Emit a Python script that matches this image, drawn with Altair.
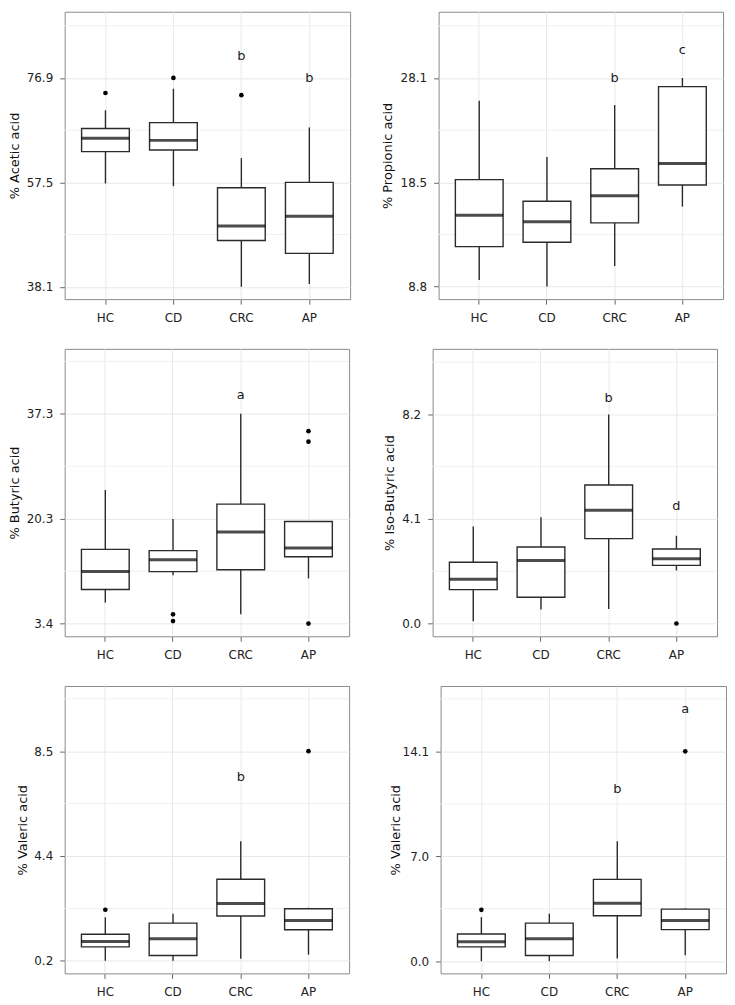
import altair as alt
import pandas as pd

groups = ["HC", "CD", "CRC", "AP"]

# ---------- Panel 1: Acetic acid ----------
ace_low = [57.3, 56.8, 38.1, 38.6]
ace_q1 = [63.2, 63.5, 46.7, 44.3]
ace_med = [65.7, 65.3, 49.4, 51.2]
ace_q3 = [67.5, 68.6, 56.5, 57.5]
ace_high = [70.9, 74.9, 62.0, 67.7]
ace_out_group = ["HC", "CD", "CRC"]
ace_out_value = [74.1, 76.9, 73.7]
ace_let_group = ["CRC", "AP"]
ace_let_value = [80.9, 76.9]
ace_let_text = ["b", "b"]
ace_ticks = [38.1, 57.5, 76.9]
ace_tick_labels = ["38.1", "57.5", "76.9"]
ace_minor = [47.8, 67.2, 86.6]

# ---------- Panel 2: Propionic acid ----------
pro_low = [9.4, 8.8, 10.7, 16.2]
pro_q1 = [12.5, 12.9, 14.7, 18.2]
pro_med = [15.4, 14.8, 17.2, 20.2]
pro_q3 = [18.7, 16.7, 19.7, 27.3]
pro_high = [26.0, 20.8, 25.6, 28.1]
pro_out_group = []
pro_out_value = []
pro_let_group = ["CRC", "AP"]
pro_let_value = [28.1, 30.7]
pro_let_text = ["b", "c"]
pro_ticks = [8.8, 18.45, 28.1]
pro_tick_labels = ["8.8", "18.5", "28.1"]
pro_minor = [13.625, 23.275, 32.925]

# ---------- Panel 3: Butyric acid ----------
but_low = [6.8, 11.2, 4.9, 10.7]
but_q1 = [8.9, 11.8, 12.1, 14.2]
but_med = [11.8, 13.7, 18.2, 15.6]
but_q3 = [15.4, 15.2, 22.7, 19.9]
but_high = [25.0, 20.3, 37.3, 19.9]
but_out_group = ["CD", "CD", "AP", "AP", "AP"]
but_out_value = [4.9, 3.8, 34.5, 32.8, 3.4]
but_let_group = ["CRC"]
but_let_value = [40.3]
but_let_text = ["a"]
but_ticks = [3.4, 20.35, 37.3]
but_tick_labels = ["3.4", "20.3", "37.3"]
but_minor = [11.875, 28.825, 45.775]

# ---------- Panel 4: Iso-Butyric acid ----------
iso_low = [0.09, 0.55, 0.57, 2.08]
iso_q1 = [1.33, 1.03, 3.33, 2.28]
iso_med = [1.74, 2.47, 4.44, 2.54]
iso_q3 = [2.40, 3.00, 5.43, 2.92]
iso_high = [3.80, 4.17, 8.2, 3.44]
iso_out_group = ["AP"]
iso_out_value = [0.0]
iso_let_group = ["CRC", "AP"]
iso_let_value = [8.84, 4.62]
iso_let_text = ["b", "d"]
iso_ticks = [0.0, 4.1, 8.2]
iso_tick_labels = ["0.0", "4.1", "8.2"]
iso_minor = [2.05, 6.15, 10.25]

# ---------- Panel 5: Valeric acid ----------
val_low = [0.2, 0.2, 0.28, 0.44]
val_q1 = [0.75, 0.41, 1.97, 1.43]
val_med = [0.96, 1.07, 2.47, 1.79]
val_q3 = [1.25, 1.69, 3.43, 2.26]
val_high = [1.92, 2.06, 4.93, 2.30]
val_out_group = ["HC", "AP"]
val_out_value = [2.22, 8.5]
val_let_group = ["CRC"]
val_let_value = [7.49]
val_let_text = ["b"]
val_ticks = [0.2, 4.35, 8.5]
val_tick_labels = ["0.2", "4.4", "8.5"]
val_minor = [2.275, 6.425, 10.575]

# ---------- Panel 6: Valeric acid (second) ----------
va2_low = [0.0, 0.0, 0.18, 0.40]
va2_q1 = [0.96, 0.38, 3.05, 2.12]
va2_med = [1.31, 1.51, 3.90, 2.74]
va2_q3 = [1.83, 2.56, 5.50, 3.50]
va2_high = [2.96, 3.19, 8.06, 3.56]
va2_out_group = ["HC", "AP"]
va2_out_value = [3.45, 14.1]
va2_let_group = ["CRC", "AP"]
va2_let_value = [11.54, 16.97]
va2_let_text = ["b", "a"]
va2_ticks = [0.0, 7.05, 14.1]
va2_tick_labels = ["0.0", "7.0", "14.1"]
va2_minor = [3.525, 10.575, 17.625]

FONT = "DejaVu Sans"
LINE = "#2b2b2b"
GRID = "#e8e8e8"
MINOR = "#f0f0f0"


def label_expr(vals, labels):
    expr = "''"
    for v, l in reversed(list(zip(vals, labels))):
        expr = f"(abs(datum.value - {v}) < 1e-6 ? '{l}' : {expr})"
    return expr


def panel(title, low, q1, med, q3, high, og, ov, lg, lv, lt, ticks, tlabels,
          minor, domain, width, height, extent):
    box = pd.DataFrame({"group": groups, "low": low, "q1": q1, "med": med,
                        "q3": q3, "high": high})
    outl = pd.DataFrame({"group": og, "value": ov})
    lets = pd.DataFrame({"group": lg, "value": lv, "text": lt})
    mins = pd.DataFrame({"value": minor})

    yscale = alt.Scale(domain=domain, nice=False, zero=False)
    yaxis = alt.Axis(values=ticks, labelExpr=label_expr(ticks, tlabels),
                     grid=True, gridColor=GRID, gridWidth=1, domain=False,
                     tickSize=5, labelPadding=7, titlePadding=4,
                     minExtent=extent, maxExtent=extent)
    xscale = alt.Scale(domain=groups, paddingInner=0, paddingOuter=0.1)
    xaxis = alt.Axis(labelAngle=0, labelPadding=8, tickSize=5, grid=True,
                     gridColor=GRID, domain=False, bandPosition=0.5)

    def Y(f):
        return alt.Y(f, type="quantitative", scale=yscale, axis=yaxis, title=title)

    X = alt.X("group:N", sort=groups, scale=xscale, axis=xaxis, title=None)

    grid = alt.Chart(mins).mark_rule(color=MINOR, strokeWidth=1).encode(y=Y("value"))
    wlow = alt.Chart(box).mark_rule(color=LINE, strokeWidth=1.4).encode(
        x=X, y=Y("low"), y2="q1")
    whigh = alt.Chart(box).mark_rule(color=LINE, strokeWidth=1.4).encode(
        x=X, y=Y("q3"), y2="high")
    rect = alt.Chart(box).mark_bar(size=48, fill="white", stroke=LINE,
                                   strokeWidth=1.4).encode(x=X, y=Y("q1"), y2="q3")
    medl = alt.Chart(box).mark_tick(orient="horizontal", size=48, thickness=3,
                                    color="black").encode(x=X, y=Y("med"))
    layers = [grid, wlow, whigh, rect, medl]
    if len(outl):
        layers.append(alt.Chart(outl).mark_circle(size=22, color="black",
                                                  opacity=1).encode(x=X, y=Y("value")))
    if len(lets):
        layers.append(alt.Chart(lets).mark_text(fontSize=13, color="#1a1a1a",
                                                font=FONT).encode(
            x=X, y=Y("value"), text="text:N"))
    return alt.layer(*layers).properties(width=width, height=height)


p1 = panel("% Acetic acid", ace_low, ace_q1, ace_med, ace_q3, ace_high,
           ace_out_group, ace_out_value, ace_let_group, ace_let_value, ace_let_text,
           ace_ticks, ace_tick_labels, ace_minor, [35.8, 89.2], 287, 289, 39)
p2 = panel("% Propionic acid", pro_low, pro_q1, pro_med, pro_q3, pro_high,
           pro_out_group, pro_out_value, pro_let_group, pro_let_value, pro_let_text,
           pro_ticks, pro_tick_labels, pro_minor, [7.64, 34.23], 286, 289, 40)
p3 = panel("% Butyric acid", but_low, but_q1, but_med, but_q3, but_high,
           but_out_group, but_out_value, but_let_group, but_let_value, but_let_text,
           but_ticks, but_tick_labels, but_minor, [1.35, 47.8], 286, 289, 39)
p4 = panel("% Iso-Butyric acid", iso_low, iso_q1, iso_med, iso_q3, iso_high,
           iso_out_group, iso_out_value, iso_let_group, iso_let_value, iso_let_text,
           iso_ticks, iso_tick_labels, iso_minor, [-0.50, 10.77], 286, 289, 32)
p5 = panel("% Valeric acid", val_low, val_q1, val_med, val_q3, val_high,
           val_out_group, val_out_value, val_let_group, val_let_value, val_let_text,
           val_ticks, val_tick_labels, val_minor, [-0.30, 11.08], 286, 289, 31)
p6 = panel("% Valeric acid", va2_low, va2_q1, va2_med, va2_q3, va2_high,
           va2_out_group, va2_out_value, va2_let_group, va2_let_value, va2_let_text,
           va2_ticks, va2_tick_labels, va2_minor, [-0.82, 18.49], 287, 289, 34)

chart = alt.vconcat(
    alt.hconcat(p1, p2, spacing=30),
    alt.hconcat(p3, p4, spacing=33),
    alt.hconcat(p5, p6, spacing=39),
    spacing=24,
).properties(
    padding={"left": 0, "top": 0, "right": 0, "bottom": 0}
).configure_view(
    stroke="#8a8a8a", strokeWidth=1
).configure_axis(
    labelFont=FONT, titleFont=FONT, labelFontSize=12, titleFontSize=13,
    titleFontWeight="normal", labelColor="#222222", titleColor="#111111",
    tickColor="#666666"
).configure_text(font=FONT)

chart.save("out.html", embed_options={"renderer": "svg", "actions": False})
